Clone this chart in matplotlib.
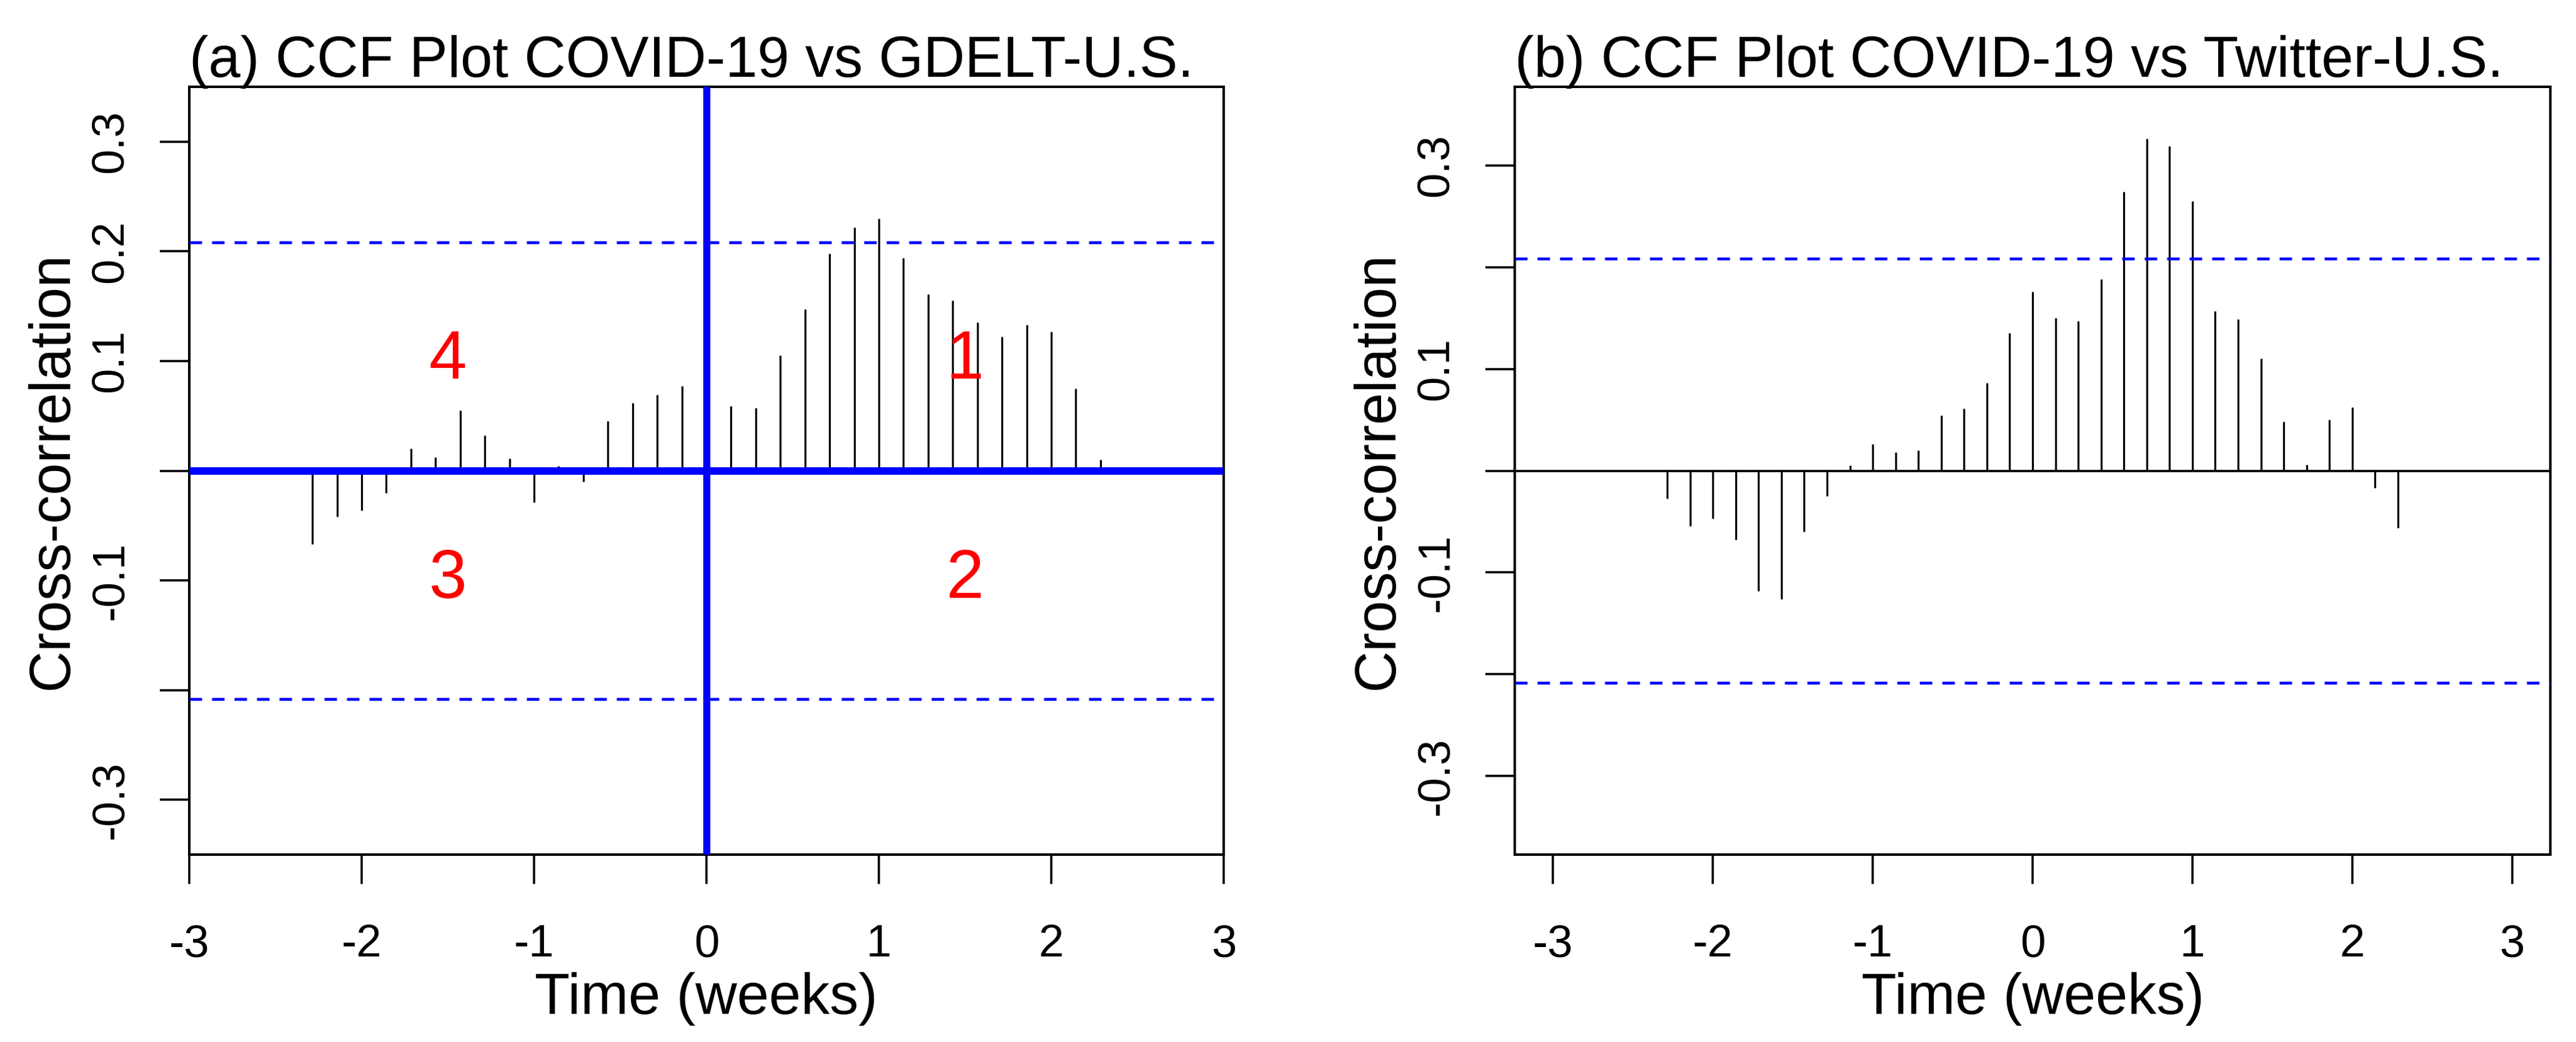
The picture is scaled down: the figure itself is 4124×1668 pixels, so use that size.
import matplotlib
matplotlib.use("Agg")
import matplotlib.pyplot as plt
import numpy as np

plt.rcParams['font.family'] = ['Liberation Sans', 'DejaVu Sans']
plt.rcParams['lines.scale_dashes'] = False

# ---- data -------------------------------------------------------------
lag_days = [-16, -15, -14, -13, -12, -11, -10, -9, -8, -7, -6, -5, -4, -3, -2, -1,
            0, 1, 2, 3, 4, 5, 6, 7, 8, 9, 10, 11, 12, 13, 14, 15, 16]

ccf_gdelt = [-0.067, -0.042, -0.036, -0.020, 0.020, 0.012, 0.055, 0.032, 0.011, -0.029,
             0.004, -0.010, 0.045, 0.062, 0.069, 0.077,
             0.085,
             0.059, 0.057, 0.105, 0.147, 0.198, 0.222, 0.230, 0.194, 0.161, 0.155,
             0.135, 0.122, 0.133, 0.127, 0.075, 0.010]

ccf_twitter = [-0.027, -0.054, -0.047, -0.068, -0.118, -0.126, -0.060, -0.025, 0.005, 0.026,
               0.018, 0.020, 0.054, 0.061, 0.086, 0.135,
               0.176,
               0.150, 0.147, 0.188, 0.274, 0.326, 0.319, 0.265, 0.157, 0.149, 0.110,
               0.048, 0.006, 0.050, 0.062, -0.017, -0.056]

conf_limit = 0.208
titles = ["(a) CCF Plot COVID-19 vs GDELT-U.S.", "(b) CCF Plot COVID-19 vs Twitter-U.S."]
x_ticks = [-3, -2, -1, 0, 1, 2, 3]
y_ticks = [-0.3, -0.2, -0.1, 0.0, 0.1, 0.2, 0.3]
y_labels_a = ["-0.3", "", "-0.1", "", "0.1", "0.2", "0.3"]
y_labels_b = ["-0.3", "", "-0.1", "", "0.1", "", "0.3"]
quadrant_labels = ["1", "2", "3", "4"]
quadrant_pos = [(1.5, 0.1), (1.5, -0.1), (-1.5, -0.1), (-1.5, 0.1)]

lags = np.array(lag_days) / 7.0

# ---- figure -----------------------------------------------------------
W, H = 4124, 1668
fig = plt.figure(figsize=(W / 100, H / 100), dpi=100)

def px2pt(p):
    return p * 0.72

boxes = [(303, 1959, 139, 1368), (2425, 4083, 139, 1368)]
xlims = [(-3, 3), (-3.24, 3.24)]
ylims = [(-0.35, 0.35), (-0.377, 0.377)]
data = [ccf_gdelt, ccf_twitter]
ylabels = [y_labels_a, y_labels_b]

tick_fs = px2pt(72.6)
lab_fs = px2pt(92)

for i in range(2):
    l, r, t, b = boxes[i]
    ax = fig.add_axes([l / W, 1 - b / H, (r - l) / W, (b - t) / H])
    ax.set_xlim(*xlims[i])
    ax.set_ylim(*ylims[i])
    for s in ax.spines.values():
        s.set_linewidth(px2pt(4))
        s.set_color('black')

    ax.vlines(lags, 0, data[i], color='black', lw=px2pt(3.2), zorder=2)
    ax.axhline(conf_limit, color='blue', lw=px2pt(4.5), dashes=(px2pt(20), px2pt(16)), zorder=3)
    ax.axhline(-conf_limit, color='blue', lw=px2pt(4.5), dashes=(px2pt(20), px2pt(16)), zorder=3)

    if i == 0:
        ax.axhline(0, color='blue', lw=px2pt(12), zorder=4)
        ax.axvline(0, color='blue', lw=px2pt(11.5), zorder=4)
        for lab, (qx, qy) in zip(quadrant_labels, quadrant_pos):
            ax.text(qx, qy, lab, color='red', fontsize=px2pt(109),
                    ha='center', va='center', zorder=5)
    else:
        ax.axhline(0, color='black', lw=px2pt(3.6), zorder=3)

    ax.set_xticks(x_ticks)
    ax.set_xticklabels([str(v) for v in x_ticks])
    ax.set_yticks(y_ticks)
    ax.set_yticklabels(ylabels[i], rotation=90, va='center')
    ax.tick_params(axis='both', direction='out', length=px2pt(47), width=px2pt(3.5),
                   labelsize=tick_fs, color='black')
    ax.tick_params(axis='x', pad=px2pt(64))
    ax.tick_params(axis='y', pad=px2pt(45))

    width_px = r - l
    height_px = b - t
    ax.text(0.0, (b - 123) / height_px, titles[i], transform=ax.transAxes,
            ha='left', va='baseline', fontsize=lab_fs)
    ax.text(0.5, (b - 1623) / height_px, "Time (weeks)", transform=ax.transAxes,
            ha='center', va='baseline', fontsize=lab_fs)
    ax.text((108 - 303) / width_px, 0.5, "Cross-correlation", transform=ax.transAxes,
            ha='center', va='baseline', rotation=90, rotation_mode='anchor',
            fontsize=lab_fs)

fig.savefig("out.png", dpi=100, facecolor='white')
